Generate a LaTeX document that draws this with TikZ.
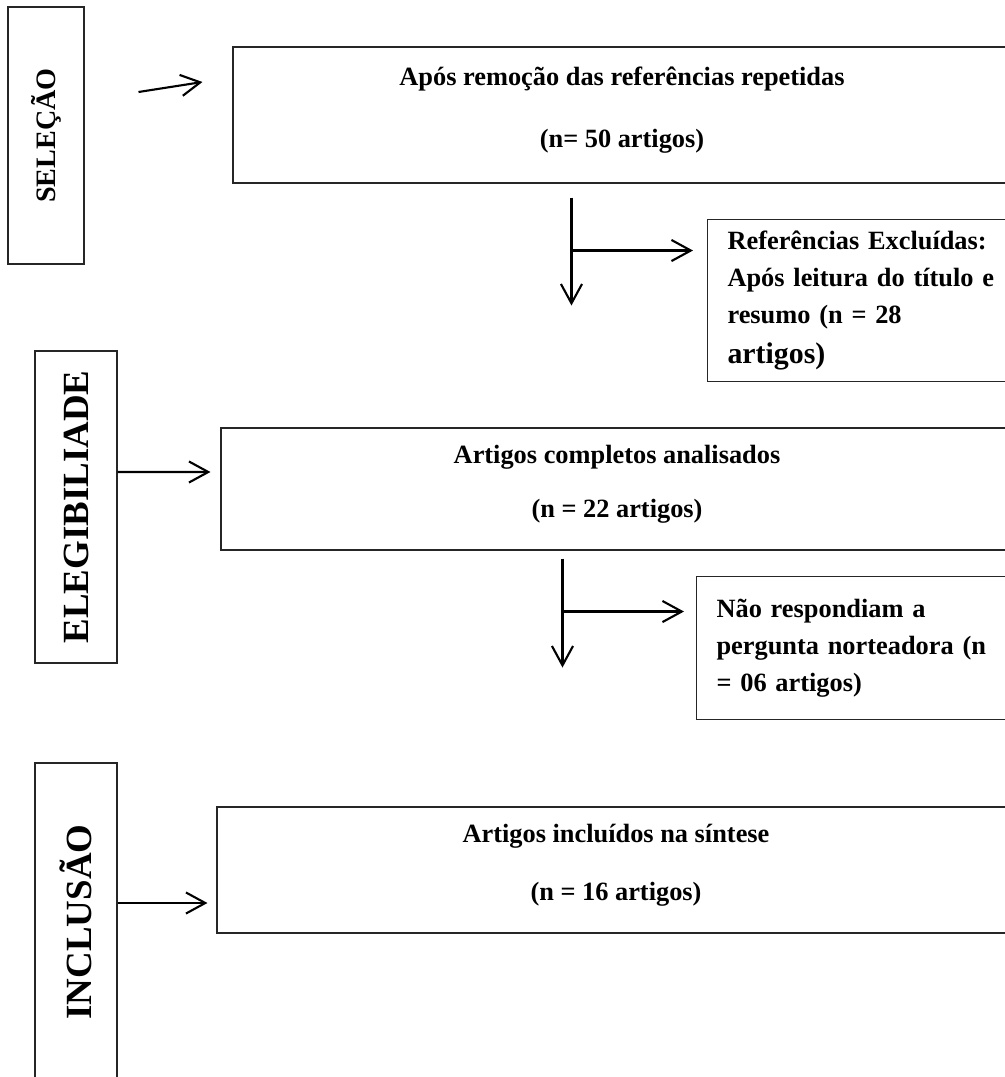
\documentclass[tikz,border=0pt]{standalone}
\usepackage{fontspec}
\usepackage{graphicx}
\setmainfont{Liberation Serif}
\usetikzlibrary{arrows.meta, calc}
\tikzset{
    % thin border for all boxes
    base_width/.style={line width=0.6pt},
    % stage boxes on the left, text turned upwards
    stage_block/.style={
        rectangle,
        draw=black!85,
        base_width,
        inner sep=0pt,
        align=center,
        font=\bfseries\fontsize{21}{24}\selectfont
    },
    % wide boxes in the middle
    main_block/.style={
        rectangle,
        draw=black!85,
        base_width,
        inner sep=0pt,
        align=center,
        text depth=9pt,
        font=\bfseries\fontsize{15}{17}\selectfont
    },
    % exclusion boxes on the right
    side_block/.style={
        rectangle,
        draw=black!85,
        base_width,
        anchor=north west,
        inner xsep=0.4cm,
        inner ysep=0pt,
        align=left,
        font=\bfseries\fontsize{15}{21}\selectfont
    },
    arrow/.style={
        ->,
        >={Straight Barb[length=11pt, width=12pt]},
        draw=black,
        line width=1.2pt
    }
}

\begin{document}
\begin{tikzpicture}

    \useasboundingbox (0,0) rectangle (20.1,-21.54);
    \clip (0,0) rectangle (20.1,-21.54);

    % --- STAGES ---
    \node[stage_block, minimum width=1.52cm, minimum height=5.14cm,
          font=\bfseries\fontsize{16}{19}\selectfont] (selecao) at (0.92,-2.71) {\rotatebox{90}{SELEÇÃO}};
    \node[stage_block, minimum width=1.64cm, minimum height=6.24cm] (elegib) at (1.52,-10.14) {\rotatebox{90}{ELEGIBILIADE}};
    \node[stage_block, minimum width=1.64cm, minimum height=6.36cm] (inclusao) at (1.52,-18.44) {\rotatebox{90}{INCLUSÃO}};

    % --- MAIN BOXES ---
    \node[main_block, minimum width=15.56cm, minimum height=2.72cm] (remocao) at (12.44,-2.30)
        {Após remoção das referências repetidas\\[18pt](n= 50 artigos)};
    \node[main_block, minimum width=15.84cm, minimum height=2.44cm] (analisados) at (12.34,-9.78)
        {Artigos completos analisados\\[14pt](n = 22 artigos)};
    \node[main_block, minimum width=15.96cm, minimum height=2.52cm] (sintese) at (12.32,-17.40)
        {Artigos incluídos na síntese\\[16pt](n = 16 artigos)};

    % --- EXCLUDED ---
    \node[side_block, text width=5.46cm, minimum height=3.24cm] (excluidas) at (14.14,-4.38)
        {Referências Excluídas:\\Após leitura do título e\\resumo (n = 28\\[1.8pt]{\fontsize{17}{21}\selectfont artigos)}};
    \node[side_block, text width=5.68cm, minimum height=2.86cm] (norteadora) at (13.92,-11.52)
        {Não respondiam a\\pergunta norteadora (n\\= 06 artigos)};

    % --- CONNECTIONS ---
    \draw[arrow] ([xshift=1.08cm,yshift=0.87cm]selecao.east) -- ([xshift=-0.6cm,yshift=0.66cm]remocao.west);
    \draw[arrow] ([yshift=0.7cm]elegib.east) -- ([xshift=-0.2cm,yshift=0.34cm]analisados.west);
    \draw[arrow] ([yshift=0.38cm]inclusao.east) -- ([xshift=-0.18cm,yshift=-0.66cm]sintese.west);

    % first split
    \coordinate (split1_top) at ([xshift=6.78cm,yshift=-0.28cm]remocao.south west);
    \coordinate (split1_bot) at ([xshift=6.78cm,yshift=-2.44cm]remocao.south west);
    \coordinate (excl_in) at ([xshift=-0.28cm,yshift=1.0cm]excluidas.west);
    \draw[arrow] (split1_top) -- (split1_bot);
    \draw[arrow] (split1_top |- excl_in) -- (excl_in);

    % second split
    \coordinate (split2_top) at ([xshift=6.84cm,yshift=-0.16cm]analisados.south west);
    \coordinate (split2_bot) at ([xshift=6.84cm,yshift=-2.34cm]analisados.south west);
    \coordinate (nort_in) at ([xshift=-0.24cm,yshift=0.73cm]norteadora.west);
    \draw[arrow] (split2_top) -- (split2_bot);
    \draw[arrow] (split2_top |- nort_in) -- (nort_in);

\end{tikzpicture}
\end{document}
